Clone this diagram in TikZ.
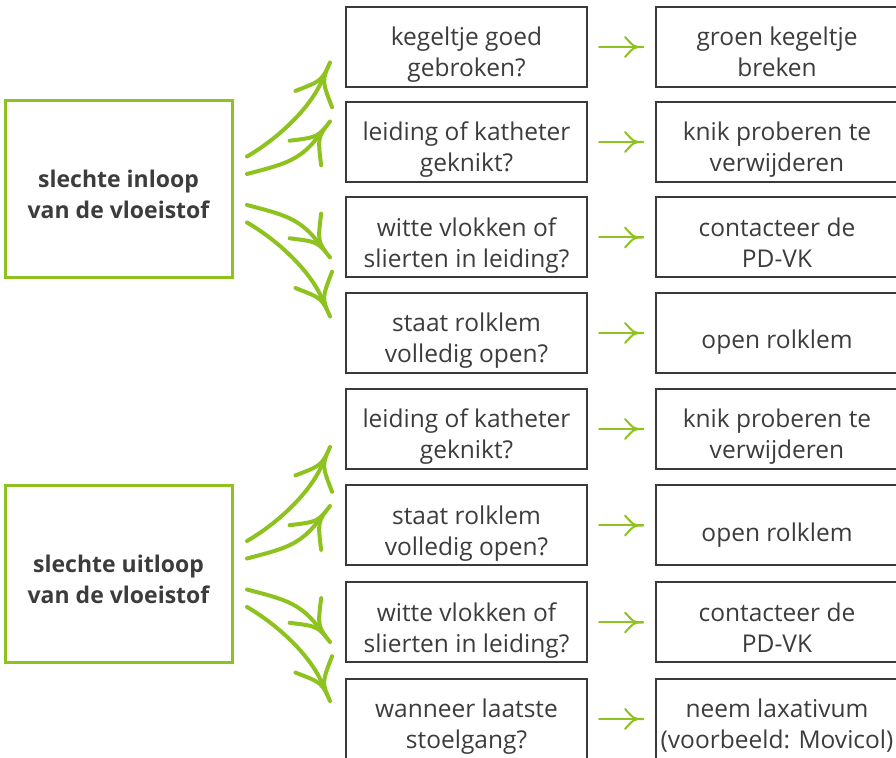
\documentclass[tikz,border=0pt]{standalone}
\usepackage{fontspec}
\setmainfont{Open Sans}
\usetikzlibrary{calc}
\definecolor{leafgreen}{RGB}{141,194,31}
\definecolor{boxgray}{RGB}{58,58,58}
\definecolor{textgray}{RGB}{60,60,60}
\tikzset{
  box/.style={draw=boxgray, line width=2pt, inner sep=0pt, outer sep=0pt},
  mid/.style={box, minimum width=241pt, minimum height=80pt},
  rgt/.style={box, minimum width=242pt, minimum height=80pt},
  lft/.style={draw=leafgreen, line width=3pt, minimum width=227pt, minimum height=177pt, inner sep=0pt, outer sep=0pt},
  txt/.style={text=textgray, align=center, font=\fontsize{24.5}{31}\selectfont, inner sep=0pt,
    execute at begin node={\strut}, execute at end node={\strut}},
  btxt/.style={text=textgray, align=center, font=\fontsize{23}{31}\selectfont\bfseries, inner sep=0pt,
    execute at begin node={\strut}, execute at end node={\strut}},
  bigline/.style={draw=leafgreen, line width=4pt, line cap=round, line join=round},
  smallline/.style={draw=leafgreen, line width=2pt, line cap=round, line join=round},
  bighead/.pic={\draw[bigline] (-40,20) .. controls (-20,0) .. (0,0) .. controls (-20,0) .. (-40,-20);},
  smallhead/.pic={\draw[smallline] (-18,10) .. controls (-9,0) .. (0,0) .. controls (-9,0) .. (-18,-10);},
}
\newcommand\cellbox[5]{%
  \node[#1] (#2) at (#3) {};
  \node[#5] (#2t) at ([yshift=-9.5pt]#2.center) {#4};}
\newcommand\bigarrow[5]{%
  \coordinate (#1s) at (#2);
  \coordinate (#1t) at (#4);
  \coordinate (#1e) at ($(#1t)+(#5+180:21)$);
  \draw[bigline] (#1s) .. controls +(#3:35) and +(#5+180:30) .. (#1e);
  \pic[rotate=#5] at (#1t) {bighead};}
\newcommand\smallarrow[2]{%
  \draw[smallline] ([xshift=12pt]#1.east) -- ([xshift=-13pt]#2.west) coordinate (#1#2a);
  \pic at (#1#2a) {smallhead};}
\begin{document}
\begin{tikzpicture}[x=1pt,y=1pt]
\useasboundingbox (0,0) rectangle (896,757);
\clip (0,0) rectangle (896,757);
% left boxes
\cellbox{lft}{L1}{118.5,567.5}{slechte inloop\\van de vloeistof}{btxt}
\cellbox{lft}{L2}{118.5,183}{slechte uitloop\\van de vloeistof}{btxt}
% middle column
\cellbox{mid}{m1}{466.5,710}{kegeltje goed\\gebroken?}{txt}
\cellbox{mid}{m2}{466.5,615}{leiding of katheter\\geknikt?}{txt}
\cellbox{mid}{m3}{466.5,519.5}{witte vlokken of\\slierten in leiding?}{txt}
\cellbox{mid}{m4}{466.5,424}{staat rolklem\\volledig open?}{txt}
\cellbox{mid}{m5}{466.5,328}{leiding of katheter\\geknikt?}{txt}
\cellbox{mid}{m6}{466.5,231.5}{staat rolklem\\volledig open?}{txt}
\cellbox{mid}{m7}{466.5,134.5}{witte vlokken of\\slierten in leiding?}{txt}
\cellbox{mid}{m8}{466.5,38}{wanneer laatste\\stoelgang?}{txt}
% right column
\cellbox{rgt}{r1}{777,710}{groen kegeltje\\breken}{txt}
\cellbox{rgt}{r2}{777,615}{knik proberen te\\verwijderen}{txt}
\cellbox{rgt}{r3}{777,519.5}{contacteer de\\PD-VK}{txt}
\cellbox{rgt}{r4}{777,424}{open rolklem}{txt}
\cellbox{rgt}{r5}{777,328}{knik proberen te\\verwijderen}{txt}
\cellbox{rgt}{r6}{777,231.5}{open rolklem}{txt}
\cellbox{rgt}{r7}{777,134.5}{contacteer de\\PD-VK}{txt}
\cellbox{rgt}{r8}{777,38}{neem laxativum\\(voorbeeld: Movicol)}{txt}
% small arrows
\smallarrow{m1}{r1}
\smallarrow{m2}{r2}
\smallarrow{m3}{r3}
\smallarrow{m4}{r4}
\smallarrow{m5}{r5}
\smallarrow{m6}{r6}
\smallarrow{m7}{r7}
\smallarrow{m8}{r8}
% big arrows, group 1
\begin{scope}[shift={(L1.center)}]
  \bigarrow{gA}{128.5,33}{30}{211.5,127}{66}
  \bigarrow{gB}{128.5,15.5}{15}{211.5,68}{52}
  \bigarrow{gC}{128.5,-15.5}{-15}{211.5,-68}{-52}
  \bigarrow{gD}{128.5,-33}{-30}{211.5,-127}{-66}
\end{scope}
% big arrows, group 2
\begin{scope}[shift={(L2.center)}]
  \bigarrow{hA}{128.5,33}{30}{211.5,127}{66}
  \bigarrow{hB}{128.5,15.5}{15}{211.5,68}{52}
  \bigarrow{hC}{128.5,-15.5}{-15}{211.5,-68}{-52}
  \bigarrow{hD}{128.5,-33}{-30}{211.5,-127}{-66}
\end{scope}
\end{tikzpicture}
\end{document}
